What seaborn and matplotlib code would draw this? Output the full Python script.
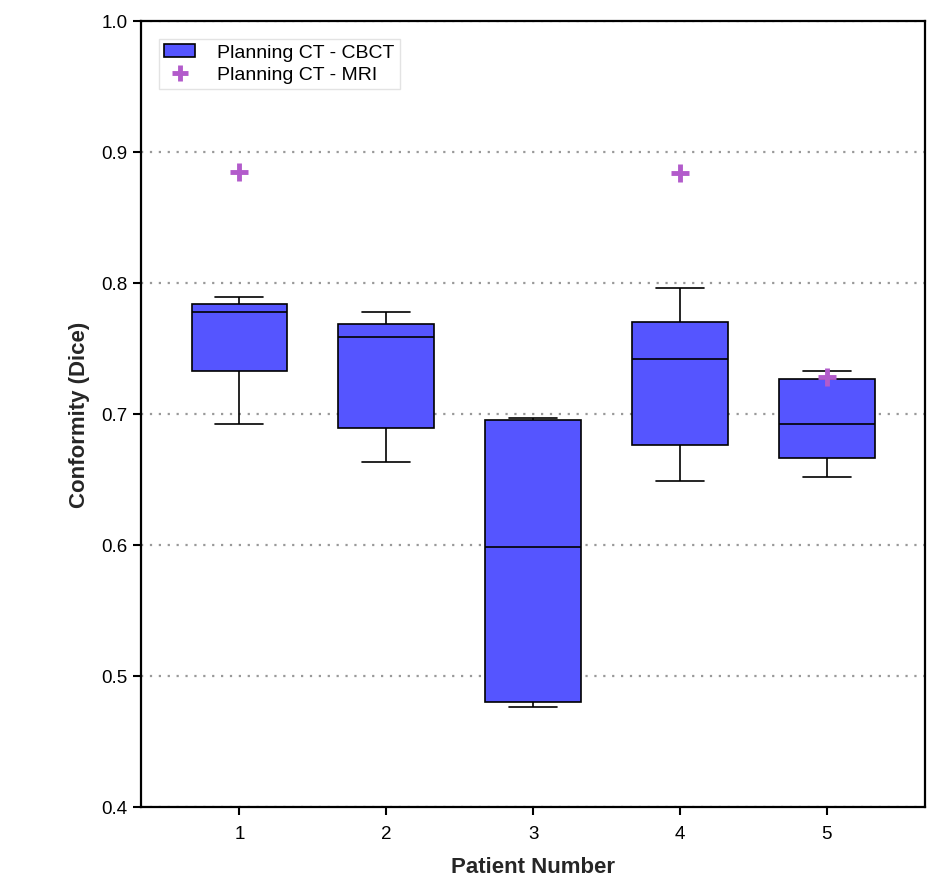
import pandas as pd
import matplotlib
matplotlib.use('Agg')
import matplotlib.pyplot as plt
import seaborn as sns
from matplotlib.patches import Patch
from matplotlib.lines import Line2D

# Data: min, Q1, median, Q3, max per patient
patients = ['1', '2', '3', '4', '5']
cbct_min = [0.692, 0.663, 0.476, 0.649, 0.652]
cbct_q1 = [0.733, 0.689, 0.480, 0.676, 0.666]
cbct_median = [0.778, 0.759, 0.598, 0.742, 0.692]
cbct_q3 = [0.784, 0.769, 0.695, 0.770, 0.727]
cbct_max = [0.789, 0.778, 0.697, 0.796, 0.733]
mri_dice = [0.885, None, None, 0.884, 0.728]

# Build long-form table (five summary values per patient reproduce the box stats)
rows = []
for i, p in enumerate(patients):
    for v in (cbct_min[i], cbct_q1[i], cbct_median[i], cbct_q3[i], cbct_max[i]):
        rows.append({'patient': p, 'dice': v})
df = pd.DataFrame(rows)
mri = pd.DataFrame({'patient': patients, 'dice': mri_dice}).dropna()

sns.set_style('white')
plt.rcParams['font.family'] = ['Liberation Sans', 'DejaVu Sans']

box_color = '#5555FF'
plus_color = '#B25BCB'

fig = plt.figure(figsize=(9.46, 8.79), dpi=100)
ax = fig.add_axes([0.149, 0.081, 0.829, 0.894])

ax.yaxis.grid(True, linestyle=(0, (1, 3)), color='#999999', linewidth=1.6)
ax.set_axisbelow(True)

sns.boxplot(data=df, x='patient', y='dice', order=patients, whis=(0, 100),
            width=0.65, color=box_color, saturation=1, linecolor='black',
            linewidth=1.2, showcaps=True, ax=ax)

sns.scatterplot(data=mri, x='patient', y='dice', marker='+', s=160,
                color=plus_color, linewidth=3.5, ax=ax, zorder=5, legend=False)

ax.set_xlim(-0.67, 4.67)
ax.set_ylim(0.4, 1.0)
ax.set_yticks([0.4, 0.5, 0.6, 0.7, 0.8, 0.9, 1.0])
ax.set_yticklabels(['0.4', '0.5', '0.6', '0.7', '0.8', '0.9', '1.0'])

for s in ax.spines.values():
    s.set_visible(True)
    s.set_color('black')
    s.set_linewidth(1.6)

ax.tick_params(axis='both', direction='out', length=6, width=1.5,
               labelsize=13.5, colors='black', left=True, bottom=True)
ax.tick_params(axis='x', pad=7)

label_font = {'family': ['Liberation Sans Narrow', 'Liberation Sans', 'DejaVu Sans'],
              'weight': 'bold', 'size': 16}
ax.set_xlabel('Patient Number', fontdict=label_font, labelpad=10)
ax.set_ylabel('Conformity (Dice)', fontdict=label_font, labelpad=8)

handles = [Patch(facecolor=box_color, edgecolor='black', linewidth=1.2),
           Line2D([], [], marker='+', linestyle='none', color=plus_color,
                  markersize=11, markeredgewidth=3.5)]
leg = ax.legend(handles, ['Planning CT - CBCT', 'Planning CT - MRI'],
                loc='upper left', bbox_to_anchor=(0.01, 0.99), fontsize=14,
                frameon=True, fancybox=False, edgecolor='#dddddd',
                handlelength=1.6, handleheight=0.6, handletextpad=1.1,
                borderpad=0.3, labelspacing=0.25)
leg.get_frame().set_linewidth(1.0)
for t in leg.get_texts():
    t.set_color('black')

fig.savefig('out.png', dpi=100)
